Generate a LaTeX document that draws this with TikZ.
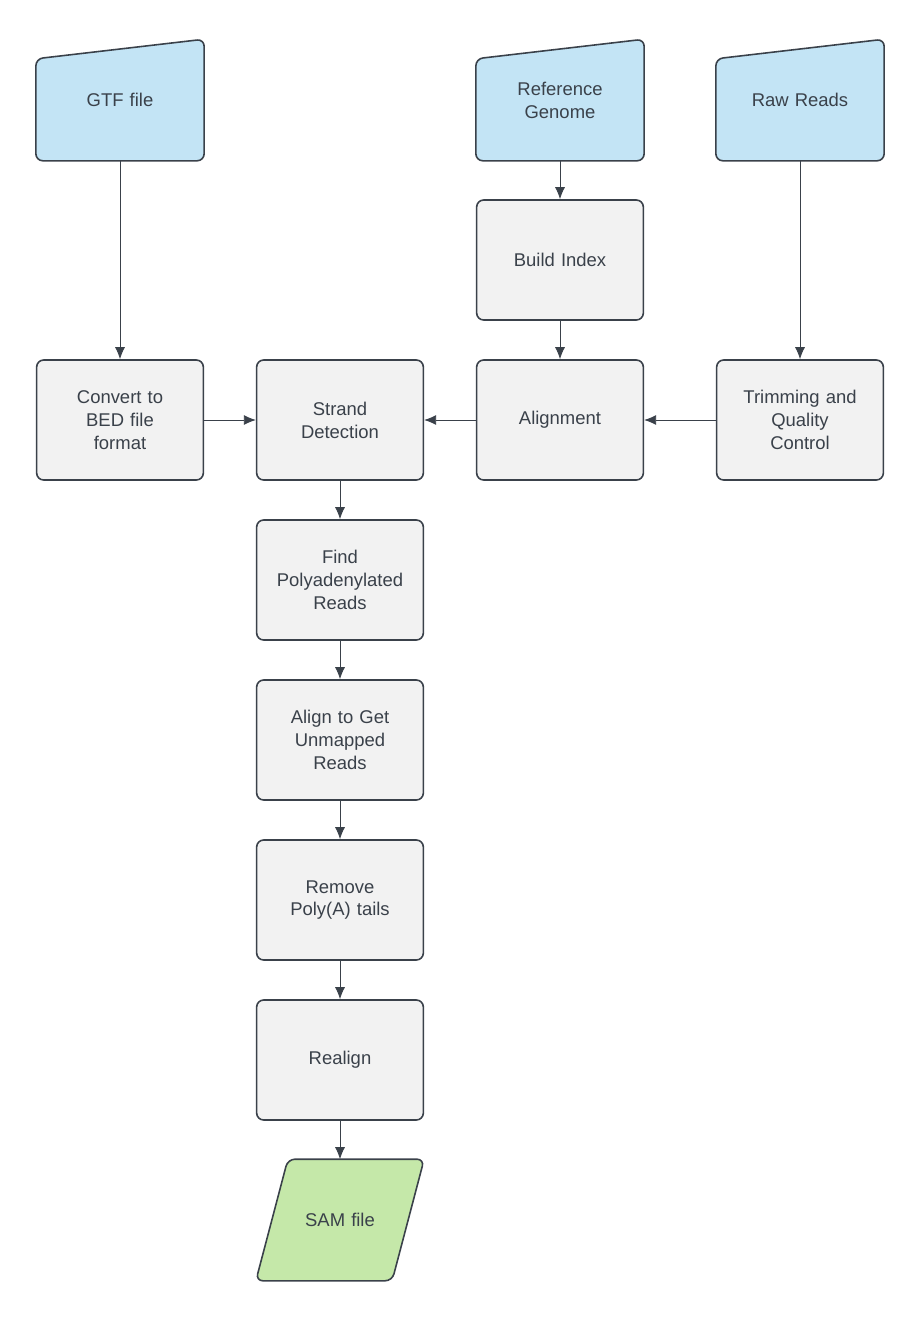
\documentclass[tikz,border=0pt]{standalone}
\usepackage{fontspec}
\setmainfont{Liberation Sans}
\usetikzlibrary{arrows.meta, calc}
\definecolor{edgegray}{HTML}{3A414A}
\definecolor{boxgray}{HTML}{F2F2F2}
\definecolor{inblue}{HTML}{C3E4F5}
\definecolor{outgreen}{HTML}{C5E8A9}
\tikzset{
  task/.style={draw=edgegray, line width=0.9pt, rounded corners=4pt, fill=boxgray,
    minimum width=3.2cm, minimum height=2.4cm, align=center, text width=3.1cm,
    font=\fontsize{10.5}{13}\selectfont, text=edgegray},
  input/.style={task, draw=none, fill=none},
  flow/.style={-{Latex[length=2.4mm,width=2mm]}, edgegray, line width=0.5pt}
}
\begin{document}
\begin{tikzpicture}
      \useasboundingbox (0,0) rectangle (18.4,-26.4);

      % inputs
      \node[input] (gtf) at (2.4, -2) {GTF file};
      \node[input] (genome) at (11.2, -2) {Reference\\Genome};
      \node[input] (raw) at (16, -2) {Raw Reads};
      \foreach \n in {gtf, genome, raw}
        \fill[inblue, draw=edgegray, line width=0.9pt, rounded corners=4pt]
          (\n.south west) -- ++(0, 2.04) -- (\n.north east) -- (\n.south east) -- cycle;
      \node[input] at (gtf) {GTF file};
      \node[input] at (genome) {Reference\\Genome};
      \node[input] at (raw) {Raw Reads};

      % steps
      \node[task] (index) at (11.2, -5.2) {Build Index};
      \node[task] (bed) at (2.4, -8.4) {Convert to\\BED file\\format};
      \node[task] (strand) at (6.8, -8.4) {Strand\\Detection};
      \node[task] (align) at (11.2, -8.4) {Alignment};
      \node[task] (trim) at (16, -8.4) {Trimming and\\Quality\\Control};
      \node[task] (polya) at (6.8, -11.6) {Find\\Polyadenylated\\Reads};
      \node[task] (unmapped) at (6.8, -14.8) {Align to Get\\Unmapped\\Reads};
      \node[task] (remove) at (6.8, -18) {Remove\\Poly(A) tails};
      \node[task] (realign) at (6.8, -21.2) {Realign};

      % output
      \node[input] (sam) at (6.8, -24.4) {};
      \fill[outgreen, draw=edgegray, line width=0.9pt, rounded corners=4pt]
        (sam.south west) -- ($(sam.north west)+(0.64,0)$) -- (sam.north east)
        -- ($(sam.south east)-(0.64,0)$) -- cycle;
      \node[input] at (sam) {SAM file};

      \draw[flow] (gtf) -- (bed);
      \draw[flow] (genome) -- (index);
      \draw[flow] (index) -- (align);
      \draw[flow] (raw) -- (trim);
      \draw[flow] (trim) -- (align);
      \draw[flow] (align) -- (strand);
      \draw[flow] (bed) -- (strand);
      \draw[flow] (strand) -- (polya);
      \draw[flow] (polya) -- (unmapped);
      \draw[flow] (unmapped) -- (remove);
      \draw[flow] (remove) -- (realign);
      \draw[flow] (realign) -- (sam);
\end{tikzpicture}
\end{document}
